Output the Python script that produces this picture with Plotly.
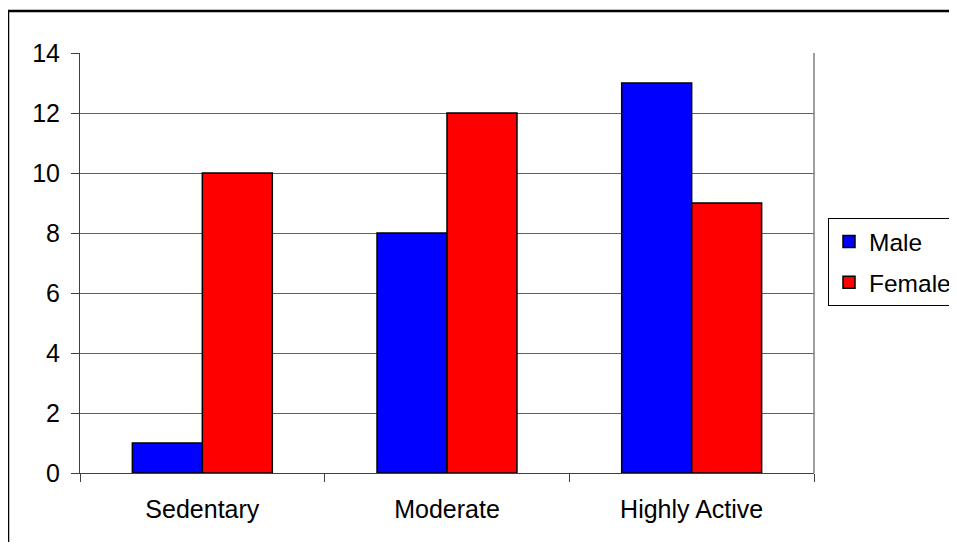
import plotly.graph_objects as go

categories = ["Sedentary", "Moderate", "Highly Active"]
male = [1, 8, 13]
female = [10, 12, 9]
y_ticks = [0, 2, 4, 6, 8, 10, 12, 14]

OFF = 8  # page body margin offset
W, H = 957 - OFF, 550 - 2 * OFF
L, R, T, B = 80 - OFF, 814 - OFF, 53 - OFF, 473 - OFF

def px(x):
    return (x - OFF - L) / (R - L)

def py(y):
    return (B - (y - OFF)) / (B - T)

font = dict(family="Arial, Liberation Sans, sans-serif", size=25, color="black")

fig = go.Figure()
fig.add_trace(go.Bar(name="Male", x=categories, y=male, legendgroup="m",
                     marker=dict(color="#0000ff", line=dict(color="black", width=1.5))))
fig.add_trace(go.Bar(name="Female", x=categories, y=female, legendgroup="f",
                     marker=dict(color="#ff0000", line=dict(color="black", width=1.5))))

fig.update_layout(
    width=W, height=H,
    margin=dict(l=L, r=W - R, t=T, b=H - B, pad=0, autoexpand=False),
    paper_bgcolor="white", plot_bgcolor="white",
    font=font,
    barmode="group", bargap=0.428, bargroupgap=0,
    showlegend=True,
    legend=dict(x=px(828), y=py(218), xanchor="left", yanchor="top",
                bordercolor="black", borderwidth=1, bgcolor="white",
                font=dict(size=24.5), itemwidth=30, traceorder="grouped",
                tracegroupgap=6),
    xaxis=dict(tickson="boundaries", ticks="outside", ticklen=8, tickcolor="#404040",
               showline=True, linecolor="#404040", linewidth=1,
               showgrid=False, tickfont=dict(size=25), ticklabelstandoff=14),
    yaxis=dict(range=[0, 14], tickvals=y_ticks, ticks="outside", ticklen=8,
               tickcolor="#404040", showline=True, linecolor="#404040", linewidth=1,
               mirror=False, showgrid=True, gridcolor="#606060", gridwidth=1,
               zeroline=False, tickfont=dict(size=25), ticklabelstandoff=6),
    shapes=[
        dict(type="line", xref="paper", yref="paper", x0=1, x1=1, y0=0, y1=1,
             line=dict(color="#808080", width=1.5)),
        dict(type="rect", xref="paper", yref="paper",
             x0=px(8), x1=px(975), y0=py(11), y1=py(570),
             line=dict(color="black", width=2.5), layer="below"),
    ],
)

fig.write_html("out.html")
